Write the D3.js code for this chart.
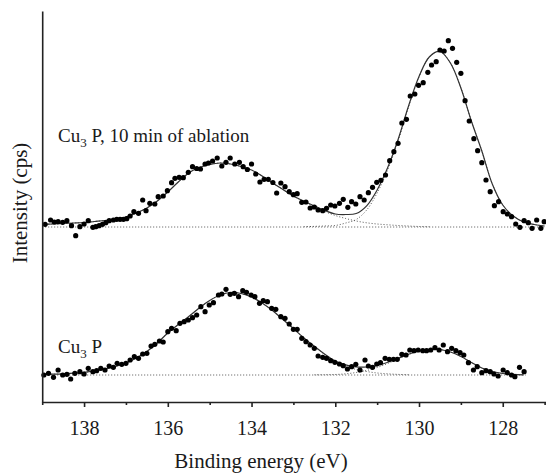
<!DOCTYPE html>
<html>
<head>
<meta charset="utf-8">
<script src="https://cdn.jsdelivr.net/npm/d3@7"></script>
<style>
  body { margin: 0; background: #fff; }
  svg text { font-family: "Liberation Serif", "DejaVu Serif", serif !important; fill: #1a1a1a; }
</style>
</head>
<body>
<svg id="chart" width="546" height="473"></svg>
<script>
// measured spectrum, Cu3P after 10 min of ablation (binding energy eV, intensity a.u.)
const topE = [138.93,138.80,138.71,138.62,138.51,138.41,138.30,138.20,138.10,138.00,
  137.90,137.79,137.72,137.64,137.56,137.48,137.40,137.30,137.22,137.14,
  137.06,136.98,136.90,136.81,136.70,136.60,136.52,136.43,136.31,136.23,
  136.11,136.01,135.91,135.83,135.73,135.63,135.51,135.41,135.31,135.22,
  135.11,135.03,134.93,134.82,134.71,134.61,134.51,134.40,134.29,134.20,
  134.10,134.00,133.90,133.80,133.70,133.60,133.49,133.40,133.30,133.20,
  133.10,133.00,132.91,132.80,132.70,132.60,132.50,132.41,132.30,132.21,
  132.11,132.01,131.90,131.81,131.70,131.61,131.51,131.41,131.31,131.21,
  131.11,131.01,130.91,130.80,130.70,130.60,130.50,130.41,130.30,130.21,
  130.10,130.01,129.90,129.79,129.70,129.59,129.50,129.40,129.30,129.20,
  129.10,129.00,128.90,128.80,128.69,128.60,128.50,128.40,128.30,128.20,
  128.10,127.99,127.89,127.79,127.69,127.59,127.49,127.39,127.30,127.19,
  127.09,127.01];
const topI = [177.7,182,180,180.3,179.7,181.3,176.3,166.3,175.3,178,
  181.3,174.7,175.3,176.3,177.7,179.3,181.3,182,182.7,182.7,
  182.7,183.3,186,190.3,188.7,202,191.3,198.7,198,205.3,
  206,211.3,219.3,223.7,224.7,224.3,229.7,235.3,233.5,233,
  238,239,241,244,236,239.7,244,238,239.7,235.3,
  232.5,238,228,220,222.7,222.7,219.5,209,219,215.3,
  210.3,207.3,208.3,199.7,200,194,195,192,191.3,193.7,
  197,196,198.7,202.7,194.7,200.3,198,205.3,202,209.3,
  214.7,219.7,221.7,227,241.3,250.3,258.7,279,282.7,306,
  308,316.7,319.3,329.7,337,340.3,352,351,361.3,353.7,
  339.7,328.7,301.3,281,263.3,251.3,239.3,222,210.3,196.3,
  200.3,190.3,188,185.3,178,174.7,181.3,179.3,173.7,182,
  173.7,180.3];

// measured spectrum, Cu3P
const botE = [138.96,138.85,138.73,138.62,138.51,138.41,138.32,138.22,138.10,138.00,
  137.90,137.79,137.70,137.60,137.50,137.40,137.30,137.21,137.10,137.00,
  136.90,136.80,136.70,136.60,136.50,136.40,136.31,136.20,136.11,136.00,
  135.91,135.80,135.71,135.61,135.51,135.41,135.31,135.21,135.11,135.01,
  134.91,134.79,134.71,134.61,134.51,134.41,134.31,134.21,134.12,134.01,
  133.92,133.81,133.72,133.62,133.52,133.42,133.30,133.20,133.10,133.00,
  132.91,132.80,132.70,132.60,132.50,132.41,132.30,132.21,132.11,132.01,
  131.90,131.81,131.71,131.61,131.51,131.41,131.29,131.21,131.11,131.01,
  130.92,130.81,130.71,130.61,130.52,130.41,130.31,130.22,130.12,130.02,
  129.91,129.82,129.72,129.62,129.52,129.42,129.32,129.22,129.12,129.02,
  128.93,128.82,128.70,128.61,128.50,128.40,128.30,128.21,128.11,127.99,
  127.89,127.79,127.71,127.60,127.49];
const botI = [27,28.7,24.7,32,27,27.7,23,28.7,30.3,28,
  33.7,30.3,31.3,33.7,32,36,34.7,38.7,37.7,38.7,
  42,45.3,43.7,48,48.7,56,57.7,61,60,70.3,
  73.7,71.3,78.7,80.3,82,84.3,87,95.3,90.3,97,
  99.3,107,108,112.7,107.7,108.7,105.3,111.3,109.7,107,
  105.3,98.7,101.3,100.3,93.7,92.7,85.3,83.7,78,72.7,
  72.7,63.7,60.3,57,53.7,46,44.7,43.7,41.3,39.7,
  38,36.3,33,35.3,37.7,32,42,36,34.7,38,
  39.3,43.7,42.7,42.7,42.7,47.7,47,52,51.3,52,
  51.3,51.3,52,54.3,52,57,50.3,53.7,51.3,49.3,
  47,39.3,32,35.3,29.3,31.3,30.3,28,26,32,
  29.3,27,25.3,34.7,30.3];

// fitted curves: heights above the background line
const topBase = 175;
const topFitE = [139,138.75,138.5,138.25,138,137.75,137.5,137.25,137,136.75,136.5,136.25,
  136,135.75,135.5,135.25,135,134.75,134.5,134.25,134,133.75,133.5,133.25,133,
  132.75,132.5,132.25,132,131.75,131.5,131.25,131,130.75,130.5,130.25,130,
  129.75,129.5,129.25,129,128.75,128.5,128.25,128,127.75,127.5,127.25,127];
const topPeak1 = [2.5,3,3.5,4,4.5,5.5,6.5,8,10,14,19,26,
  35,45,54,59.5,62.5,64,63,60.5,57,51,44,37.5,31,
  25.5,20.5,15.5,11.5,8.5,6,4.2,3,2.2,1.5,1,0.5,
  0.3,0,0,0,0,0,0,0,0,0,0,0];
const topPeak2 = [0,0,0,0,0,0,0,0,0,0,0,0,
  0,0,0,0,0,0,0,0,0,0,0,0,0,
  0.3,0.6,1,1.5,4,7.5,17,34,57,86,120,150,
  170,175.5,164,139,106,76,43,22,11,5,2.5,1];
const topFit = [2.5,3,3.5,4,4.5,5.5,6.5,8,10,14,19,26,
  35,45,54,59.5,62.5,64,63,60.5,57,51,44,37.5,31,
  25.8,21.1,16.5,13,12.5,13.5,21.2,37,59.2,87.5,121,150.5,
  170.3,175.5,164,139,106,76,43,22,11,5,2.5,1];

const botBase = 27;
const botFitE = [139,138.75,138.5,138.25,138,137.75,137.5,137.25,137,136.75,136.5,136.25,
  136,135.75,135.5,135.25,135,134.75,134.5,134.25,134,133.75,133.5,133.25,133,
  132.75,132.5,132.25,132,131.75,131.5,131.25,131,130.75,130.5,130.25,130,
  129.75,129.5,129.25,129,128.75,128.5,128.25,128,127.75,127.5];
const botPeak1 = [0.5,0.8,1.2,1.8,2.6,4.2,6,8.5,12,17,23.5,32,
  42,50.5,58.5,67,74.5,80,82.5,81.5,78,72,64.5,55.5,46.5,
  37,28.5,20.5,13.5,9,5.5,3.5,2,1.2,0.6,0.3,0,
  0,0,0,0,0,0,0,0,0,0];
const botPeak2 = [0,0,0,0,0,0,0,0,0,0,0,0,
  0,0,0,0,0,0,0,0,0,0,0,0,0,
  0,0.2,0.3,0.5,1.2,2.5,4.5,7.5,11.5,16,20.5,24,
  25.7,25.5,23,18.5,12.5,7,3.5,1.5,0.6,0.2];
const botFit = [0.5,0.8,1.2,1.8,2.6,4.2,6,8.5,12,17,23.5,32,
  42,50.5,58.5,67,74.5,80,82.5,81.5,78,72,64.5,55.5,46.5,
  37,28.7,20.8,14,10.2,8,8,9.5,12.7,16.6,20.8,24,
  25.7,25.5,23,18.5,12.5,7,3.5,1.5,0.6,0.2];

const majorTicks = [138, 136, 134, 132, 130, 128];
const minorTicks = [139, 137, 135, 133, 131, 129, 127];

const serif = '"Liberation Serif", "DejaVu Serif", serif';
const svg = d3.select('#chart');
const x = d3.scaleLinear().domain([139, 126.967]).range([42.2, 546]);
const y = d3.scaleLinear().domain([0, 391]).range([402, 11]);

// background lines
function baseline(base, e0, e1) {
  svg.append('path')
    .attr('d', d3.line()([[x(e0), y(base)], [x(e1), y(base)]]))
    .attr('fill', 'none').attr('stroke', '#555').attr('stroke-width', 1)
    .attr('stroke-dasharray', '1,2');
}
baseline(topBase, 139, 126.967);
baseline(botBase, 139, 127.45);

function fitLine(es, hs, base, dotted) {
  const line = d3.line()
    .defined(d => !dotted || d[1] > 0)
    .x(d => x(d[0]))
    .y(d => y(base + d[1]))
    .curve(d3.curveCatmullRom);
  svg.append('path')
    .attr('d', line(es.map((e, i) => [e, hs[i]])))
    .attr('fill', 'none')
    .attr('stroke', dotted ? '#555' : '#333')
    .attr('stroke-width', dotted ? 1 : 1.2)
    .attr('stroke-dasharray', dotted ? '1,2' : null);
}
fitLine(topFitE, topPeak1, topBase, true);
fitLine(topFitE, topPeak2, topBase, true);
fitLine(botFitE, botPeak1, botBase, true);
fitLine(botFitE, botPeak2, botBase, true);
fitLine(topFitE, topFit, topBase, false);
fitLine(botFitE, botFit, botBase, false);

// data points
function points(es, is) {
  svg.append('g').selectAll('circle')
    .data(es.map((e, i) => [e, is[i]]))
    .enter().append('circle')
    .attr('cx', d => x(d[0]))
    .attr('cy', d => y(d[1]))
    .attr('r', 2.6)
    .attr('fill', '#000');
}
points(topE, topI);
points(botE, botI);

// axes
const xAxis = svg.append('g')
  .attr('transform', 'translate(0,402)')
  .call(d3.axisBottom(x).tickValues(majorTicks).tickSize(5).tickSizeOuter(0).tickPadding(14));
xAxis.attr('font-family', serif);
xAxis.selectAll('text').style('font-size', '20px').style('font-family', serif);
const xMinor = svg.append('g')
  .attr('transform', 'translate(0,402)')
  .call(d3.axisBottom(x).tickValues(minorTicks).tickSize(3).tickFormat(''));
xMinor.select('.domain').remove();

svg.append('g')
  .attr('transform', 'translate(42.2,0)')
  .call(d3.axisLeft(y).tickValues([]).tickSizeOuter(0));

svg.selectAll('.domain, .tick line').attr('stroke', '#222').attr('stroke-width', 1.6);

// titles
svg.append('text')
  .attr('x', 261).attr('y', 468)
  .attr('text-anchor', 'middle')
  .style('font-family', serif)
  .style('font-size', '21px')
  .text('Binding energy (eV)');

svg.append('text')
  .attr('transform', 'translate(27,203) rotate(-90)')
  .attr('text-anchor', 'middle')
  .style('font-family', serif)
  .style('font-size', '21px')
  .text('Intensity (cps)');

// spectrum labels
function label(px, py, rest) {
  const t = svg.append('text').attr('x', px).attr('y', py)
    .style('font-family', serif).style('font-size', '19px');
  t.append('tspan').text('Cu');
  t.append('tspan').attr('dy', 5).style('font-size', '13px').text('3');
  t.append('tspan').attr('dy', -5).text(' ' + rest);
}
label(58, 142, 'P, 10 min of ablation');
label(58, 353, 'P');
</script>
</body>
</html>
